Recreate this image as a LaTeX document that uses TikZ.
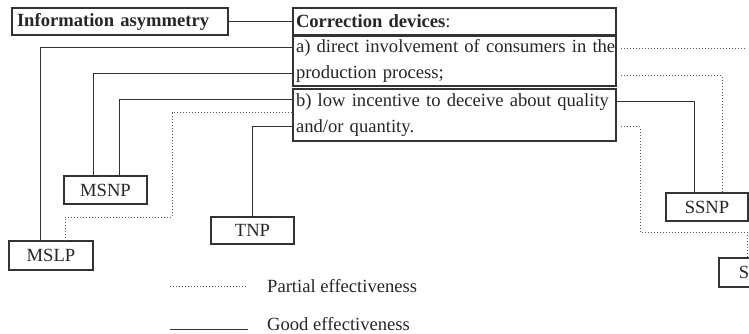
\documentclass[tikz,border=0pt]{standalone}
\usepackage{fontspec}
\setmainfont{Liberation Serif}
\usetikzlibrary{positioning}

\begin{document}
\begin{tikzpicture}[x=1pt,y=-1pt,
  every node/.style={font=\fontsize{18.6}{26}\selectfont,text=black!85},
  box/.style={draw=black!80,line width=1.2pt,inner sep=0pt,
    minimum width=83pt,minimum height=28pt},
  textbox/.style={draw=black!80,line width=1.2pt,inner xsep=3pt,inner ysep=0pt,
    text width=317pt,align=left},
  good/.style={draw=black!80,line width=1pt},
  partial/.style={draw=black!65,line width=1pt,dotted},
  legend/.style={inner sep=0pt,anchor=base west}
]
  \useasboundingbox (0,0) rectangle (749,334);
  \clip (0,0) rectangle (749,334);

  % problem and the devices that correct it
  \node[textbox,text width=206pt,inner xsep=5pt,minimum height=27pt,
    font=\fontsize{18.6}{26}\selectfont\bfseries] (info) at (120,21.5)
    {Information asymmetry};
  \node[textbox,minimum height=27pt] (corr) at (454.5,21.5)
    {\textbf{Correction devices}:};
  \node[textbox,minimum height=50pt] (devA) at (454.5,61)
    {\mbox{a) direct involvement of consumers in the}\\production process;};
  \node[textbox,minimum height=52pt] (devB) at (454.5,115)
    {\mbox{b) low incentive to deceive about quality}\\and/or quantity.};

  % network types
  \node[box,minimum height=29pt,minimum width=84pt] (mslp) at (51,255.5) {MSLP};
  \node[box] (msnp) at (105.5,190) {MSNP};
  \node[box,minimum height=27pt] (tnp) at (252.5,230.5) {TNP};
  \node[box,minimum width=82pt] (ssnp) at (707,207) {SSNP};
  \node[box,minimum height=29pt,minimum width=82pt] (sslp) at (760,272.5)
    {S\phantom{SLP}};

  \coordinate (bendA) at (172,217);
  \coordinate (bendB) at (640,232);
  \coordinate (offA) at (746,49);

  \draw[good] (info.east) -- (corr.west);

  % left side
  \draw[good] ([yshift=13pt]devA.west) -| ([xshift=-11pt]mslp.north);
  \draw[good] ([yshift=-13pt]devA.west) -| ([xshift=-12.5pt]msnp.north);
  \draw[good] ([yshift=15pt]devB.west) -| ([xshift=13.5pt]msnp.north);
  \draw[partial] ([yshift=2pt]devB.west) -| (bendA) -| ([xshift=14pt]mslp.north);
  \draw[good] ([yshift=-12pt]devB.west) -| (tnp.north);

  % right side
  \draw[partial] ([xshift=4pt,yshift=12pt]devA.east) -- (offA);
  \draw[partial] ([xshift=4pt,yshift=-15pt]devA.east) -| ([xshift=15pt]ssnp.north);
  \draw[good] ([yshift=13pt]devB.east) -| ([xshift=-13pt]ssnp.north);
  \draw[partial] ([xshift=4pt,yshift=-12pt]devB.east) -| (bendB)
    -| ([xshift=-13pt]sslp.north);

  % legend
  \coordinate (pA) at (170,286);
  \coordinate (pB) at (248,286);
  \coordinate (gA) at (170,329);
  \coordinate (gB) at (248,329);
  \draw[partial] (pA) -- (pB);
  \draw[good] (gA) -- (gB);
  \node[legend] (partialtxt) at (267,292) {Partial effectiveness};
  \node[legend] (goodtxt) at (267,330) {Good effectiveness};
\end{tikzpicture}
\end{document}
